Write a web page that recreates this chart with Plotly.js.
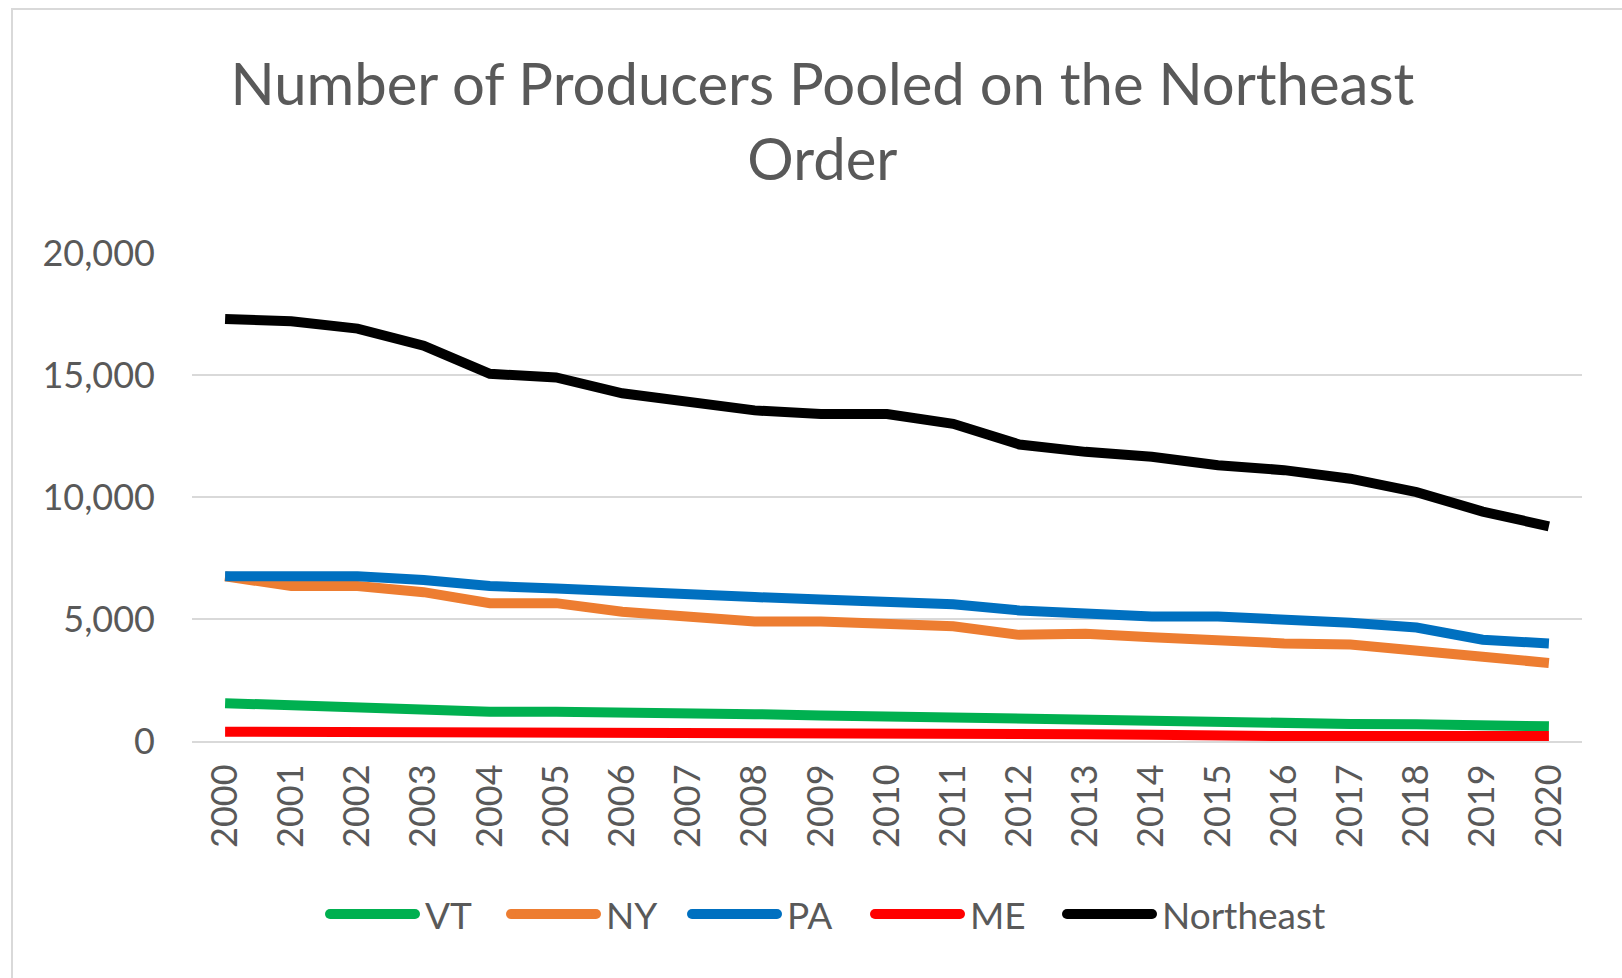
<!DOCTYPE html>
<html>
<head>
<meta charset="utf-8">
<script src="https://cdn.plot.ly/plotly-3.0.1.min.js"></script>
<style>
html,body{margin:0;padding:0;background:#fff;}
#frame{position:absolute;left:11px;top:8px;width:1700px;height:1100px;border:2px solid #d9d9d9;box-sizing:border-box;}
#chart{position:absolute;left:0;top:0;width:1622px;height:978px;}
</style>
</head>
<body>
<div id="frame"></div>
<div id="chart"></div>
<script>
const years = ["2000","2001","2002","2003","2004","2005","2006","2007","2008","2009","2010","2011","2012","2013","2014","2015","2016","2017","2018","2019","2020"];
const seriesNames = ["VT","NY","PA","ME","Northeast"];
const vt = [1550,1450,1400,1350,1200,1200,1200,1100,1100,1050,1000,900,850,800,750,750,730,700,690,650,600];
const ny = [6750,6350,6350,6100,5650,5650,5300,5050,4900,4900,4800,4700,4350,4400,4250,4100,4000,3950,3750,3450,3200];
const pa = [6750,6750,6750,6600,6350,6250,6100,6000,5900,5800,5750,5600,5350,5200,5100,5100,5000,4850,4650,4150,4000];
const me = [380,380,380,380,380,380,370,280,280,280,280,280,280,280,260,200,200,200,200,200,200];
const northeast = [17300,17200,16900,16200,15050,14900,14250,13850,13550,13400,13400,13000,12150,11850,11650,11300,11100,10750,10200,9400,8800];
const yTickVals = [0, 5000, 10000, 15000, 20000];
const yTickText = ["0", "5,000", "10,000", "15,000", "20,000"];
const titleText = "Number of Producers Pooled on the Northeast<br>Order";

const colors = ["#00B050","#ED7D31","#0070C0","#FF0000","#000000"];
const values = [vt, ny, pa, me, northeast];

const traces = values.map((v, i) => ({
  type: "scatter",
  mode: "lines",
  x: years,
  y: v,
  name: seriesNames[i],
  showlegend: false,
  line: {color: colors[i], width: 10, shape: "linear"},
  hoverinfo: "x+y+name"
}));

const font = "Lato, 'Open Sans', sans-serif";

// plot area in pixels
const M = {l: 192, r: 40, t: 253, b: 237};
const W = 1622, H = 978;
const pw = W - M.l - M.r, ph = H - M.t - M.b;
const px2x = X => (X - M.l) / pw;
const px2y = Y => (H - M.b - Y) / ph;

// custom legend (long line samples as in the reference)
const legendStarts = [326, 507, 688, 871, 1063];
const legendLineLen = 93;
const legendY = 914;
const shapes = [];
const annotations = [];
seriesNames.forEach((n, i) => {
  const x0 = legendStarts[i];
  shapes.push({
    type: "line", xref: "paper", yref: "paper",
    x0: px2x(x0 + 4), x1: px2x(x0 + legendLineLen - 4),
    y0: px2y(legendY), y1: px2y(legendY),
    line: {color: colors[i], width: 10}
  });
  shapes.push({
    type: "circle", xref: "paper", yref: "paper",
    x0: px2x(x0 - 1), x1: px2x(x0 + 9), y0: px2y(legendY + 5), y1: px2y(legendY - 5),
    fillcolor: colors[i], line: {width: 0}
  });
  shapes.push({
    type: "circle", xref: "paper", yref: "paper",
    x0: px2x(x0 + legendLineLen - 9), x1: px2x(x0 + legendLineLen + 1), y0: px2y(legendY + 5), y1: px2y(legendY - 5),
    fillcolor: colors[i], line: {width: 0}
  });
  annotations.push({
    text: n, xref: "paper", yref: "paper",
    x: px2x(x0 + legendLineLen + 4), y: px2y(legendY),
    xanchor: "left", yanchor: "middle", showarrow: false,
    font: {family: font, size: 37, color: "#595959"}
  });
});

const layout = {
  width: W,
  height: H,
  paper_bgcolor: "rgba(0,0,0,0)",
  plot_bgcolor: "rgba(0,0,0,0)",
  margin: {l: M.l, r: M.r, t: M.t, b: M.b, pad: 0},
  title: {
    text: titleText,
    font: {family: font, size: 58, color: "#595959"},
    x: 0.507, xanchor: "center",
    xref: "container",
    y: 0.893, yanchor: "middle",
    yref: "container"
  },
  xaxis: {
    type: "category",
    range: [-0.5, 20.5],
    showgrid: false,
    showline: true,
    linecolor: "#d9d9d9",
    linewidth: 2,
    ticks: "",
    tickangle: -90,
    tickfont: {family: font, size: 36, color: "#595959"},
    ticklabelstandoff: 7,
    fixedrange: true
  },
  yaxis: {
    range: [0, 20000],
    tickvals: yTickVals,
    ticktext: yTickText,
    showgrid: true,
    gridcolor: "#d9d9d9",
    gridwidth: 2,
    zeroline: false,
    showline: false,
    ticks: "",
    tickfont: {family: font, size: 36, color: "#595959"},
    ticklabelstandoff: 36,
    fixedrange: true
  },
  showlegend: false,
  shapes: shapes,
  annotations: annotations
};

Plotly.newPlot("chart", traces, layout, {displayModeBar: false});
</script>
</body>
</html>
